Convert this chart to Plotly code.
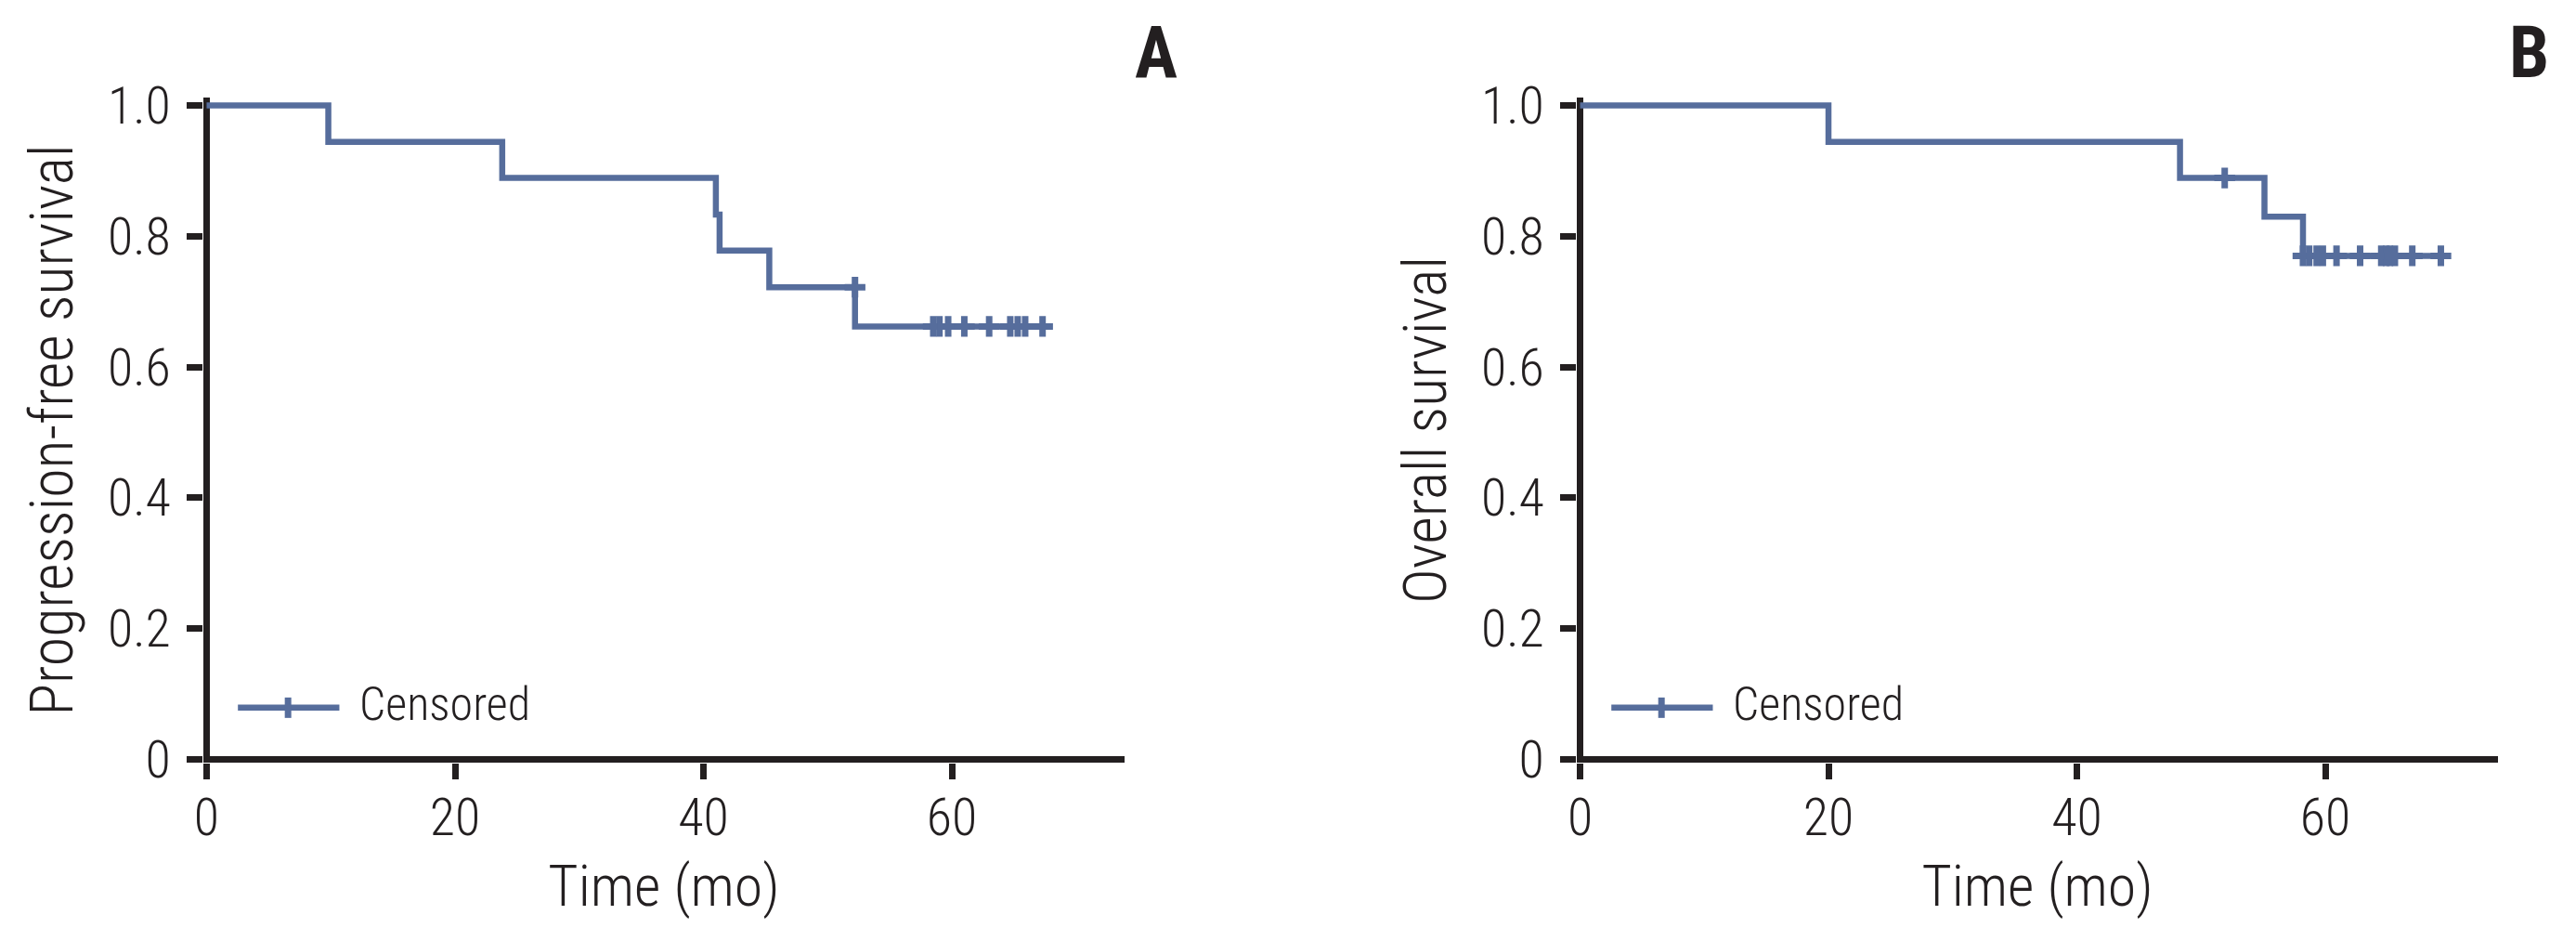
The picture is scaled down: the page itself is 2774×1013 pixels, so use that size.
import plotly.graph_objects as go

# ---------------- data ----------------
# Panel A: progression-free survival (Kaplan-Meier steps)
pfs_time = [0, 9.8, 23.8, 41.0, 41.3, 45.3, 52.2, 67.3]
pfs_surv = [1.0, 0.944, 0.889, 0.833, 0.778, 0.722, 0.662, 0.662]
pfs_cens_time = [52.2, 58.5, 59.0, 59.7, 61.0, 63.0, 64.7, 65.3, 65.9, 67.3]
pfs_cens_surv = [0.722, 0.662, 0.662, 0.662, 0.662, 0.662, 0.662, 0.662, 0.662, 0.662]

# Panel B: overall survival
os_time = [0, 20.0, 48.3, 55.1, 58.2, 69.3]
os_surv = [1.0, 0.944, 0.889, 0.830, 0.770, 0.770]
os_cens_time = [51.9, 58.2, 58.7, 59.3, 59.8, 60.9, 62.8, 64.5, 64.9, 65.2, 65.6, 67.0, 69.3]
os_cens_surv = [0.889, 0.770, 0.770, 0.770, 0.770, 0.770, 0.770, 0.770, 0.770, 0.770, 0.770, 0.770, 0.770]

x_ticks = [0, 20, 40, 60]
y_ticks = [0, 0.2, 0.4, 0.6, 0.8, 1.0]
y_ticktext = ["0", "0.2", "0.4", "0.6", "0.8", "1.0"]
panel_labels = ["A", "B"]
y_titles = ["Progression-free survival", "Overall survival"]
x_title = "Time (mo)"
legend_text = "Censored"

# ---------------- style ----------------
CURVE = "#566D9C"
INK = "#231F20"
FONT = "Roboto Condensed, Liberation Sans Narrow, Roboto, sans-serif"
W, H = 2774, 1013

fig = go.Figure()

panels = [
    (pfs_time, pfs_surv, pfs_cens_time, pfs_cens_surv, "x", "y"),
    (os_time, os_surv, os_cens_time, os_cens_surv, "x2", "y2"),
]
for t, s, ct, cs, xa, ya in panels:
    fig.add_trace(go.Scatter(
        x=t, y=s, mode="lines", line=dict(color=CURVE, width=6.5, shape="hv"),
        xaxis=xa, yaxis=ya, showlegend=False, hoverinfo="skip"))
    fig.add_trace(go.Scatter(
        x=ct, y=cs, mode="markers",
        marker=dict(symbol="cross-thin", size=16, color=CURVE,
                    line=dict(color=CURVE, width=7)),
        xaxis=xa, yaxis=ya, showlegend=False, hoverinfo="skip", cliponaxis=False))

tickfont = dict(family=FONT, size=56, color=INK, weight=300)
xtitlefont = dict(family=FONT, size=62, color=INK, weight=300)
ytitlefont = dict(family=FONT, size=64, color=INK, weight=300)
# the axis lines are drawn as zero lines so that they sit exactly on x=0 / y=0
axis_common = dict(
    showline=False, zeroline=True, zerolinecolor=INK, zerolinewidth=7,
    ticks="outside", ticklen=17, tickwidth=7, tickcolor=INK,
    showgrid=False, tickfont=tickfont,
)

l_m, r_m, t_m, b_m = 218.5, 83.7, 104.8, 191.5
PW = W - l_m - r_m
PH = H - t_m - b_m
xr_ = [-0.26, 73.9]
yr_ = [-0.005, 1.012]
xd_a = [0, (1210.8 - l_m) / PW]
xd_b = [(1698.0 - l_m) / PW, 1]
fig.update_layout(
    width=W, height=H, paper_bgcolor="white", plot_bgcolor="white",
    margin=dict(l=l_m, r=r_m, t=t_m, b=b_m, autoexpand=False),
    showlegend=False,
    font=dict(family=FONT, color=INK),
    xaxis=dict(domain=xd_a, range=xr_, tickvals=x_ticks,
               anchor="y", ticklabelstandoff=-7,
               title=dict(text=x_title, font=xtitlefont, standoff=19),
               **axis_common),
    yaxis=dict(domain=[0, 1], range=yr_, tickvals=y_ticks, ticktext=y_ticktext,
               anchor="x", ticklabelstandoff=6,
               title=dict(text=y_titles[0], font=ytitlefont, standoff=16),
               **axis_common),
    xaxis2=dict(domain=xd_b, range=xr_, tickvals=x_ticks,
                anchor="y2", ticklabelstandoff=-7,
                title=dict(text=x_title, font=xtitlefont, standoff=19),
                **axis_common),
    yaxis2=dict(domain=[0, 1], range=yr_, tickvals=y_ticks, ticktext=y_ticktext,
                anchor="x2", ticklabelstandoff=6,
                title=dict(text=y_titles[1], font=ytitlefont, standoff=16),
                **axis_common),
)

# legend samples ("Censored") drawn in each panel's domain coordinates
DW = (xd_a[1] - xd_a[0]) * PW   # panel width in px


def dx(px):
    return (px - l_m) / DW


def dy(py):
    return (H - b_m - py) / PH


shapes = []
annotations = []
for xa, ya in [("x", "y"), ("x2", "y2")]:
    xr, yr = f"{xa} domain", f"{ya} domain"
    shapes.append(dict(type="line", xref=xr, yref=yr, x0=dx(255.7), x1=dx(365), y0=dy(762.3),
                       y1=dy(762.3), line=dict(color=CURVE, width=6.5)))
    shapes.append(dict(type="line", xref=xr, yref=yr, x0=dx(309.7), x1=dx(309.7), y0=dy(773.3),
                       y1=dy(751.3), line=dict(color=CURVE, width=7)))
    annotations.append(dict(text=legend_text, xref=xr, yref=yr, x=dx(385), y=dy(758),
                            xanchor="left", yanchor="middle", showarrow=False,
                            font=dict(family=FONT, size=50, color=INK, weight=300)))

# panel letters (paper coords are relative to the plotting area)
for lab, px in zip(panel_labels, [1245, 2724]):
    annotations.append(dict(text=lab, xref="paper", yref="paper",
                            x=(px - l_m) / PW, y=dy(56.8),
                            xanchor="center", yanchor="middle", showarrow=False,
                            font=dict(family=FONT, size=77, color=INK, weight=700)))

fig.update_layout(shapes=shapes, annotations=annotations)
fig.write_html("out.html", config={"displayModeBar": False},
               post_script="document.body.style.margin='0';document.body.style.overflow='hidden';")
